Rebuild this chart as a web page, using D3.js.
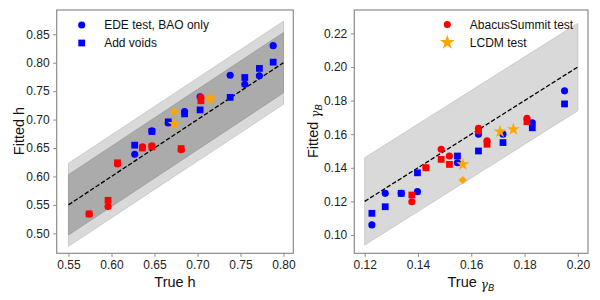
<!DOCTYPE html>
<html>
<head>
<meta charset="utf-8">
<script src="https://cdn.jsdelivr.net/npm/d3@7"></script>
<style>
  body { margin: 0; background: #fff; }
  svg { font-family: "Liberation Sans", Arial, sans-serif; }
</style>
</head>
<body>
<div id="chart"></div>
<script>
// ---- data ----
// left panel: h
var hBandX = [0.55, 0.80];
var hEdeTrue = [0.627, 0.647, 0.666, 0.685, 0.703, 0.738, 0.755, 0.772, 0.788];
var hEdeBao = [0.639, 0.680, 0.694, 0.714, 0.740, 0.778, 0.762, 0.777, 0.830];
var hEdeVoids = [0.655, 0.679, 0.696, 0.710, 0.717, 0.739, 0.774, 0.790, 0.801];
var hAbacusTrue = [0.574, 0.596, 0.607, 0.636, 0.647, 0.681, 0.704];
var hAbacusBao = [0.534, 0.547, 0.622, 0.652, 0.654, 0.647, 0.739];
var hAbacusVoids = [0.534, 0.558, 0.624, 0.650, 0.652, 0.649, 0.733];
var hLcdmDiamondTrue = [0.673, 0.715];
var hLcdmDiamond = [0.714, 0.737];
var hLcdmStarTrue = [0.673, 0.715];
var hLcdmStar = [0.692, 0.737];
var hTicks = [0.55, 0.60, 0.65, 0.70, 0.75, 0.80];
var hTicksY = [0.50, 0.55, 0.60, 0.65, 0.70, 0.75, 0.80, 0.85];

// right panel: gamma_B
var gBandX = [0.12, 0.20];
var gEdeTrue = [0.1227, 0.1277, 0.1337, 0.1398, 0.1548, 0.1627, 0.1719, 0.1829, 0.195];
var gEdeBao = [0.106, 0.1248, 0.1248, 0.1258, 0.143, 0.160, 0.160, 0.1668, 0.1858];
var gEdeVoids = [0.1129, 0.1168, 0.1248, 0.137, 0.147, 0.150, 0.155, 0.1638, 0.178];
var gAbacusTrue = [0.1377, 0.143, 0.1487, 0.1518, 0.1627, 0.1659, 0.1809];
var gAbacusBao = [0.1198, 0.140, 0.151, 0.147, 0.1635, 0.156, 0.1694];
var gAbacusVoids = [0.1238, 0.140, 0.145, 0.142, 0.162, 0.154, 0.1674];
var gLcdmDiamondTrue = [0.1568];
var gLcdmDiamond = [0.1327];
var gLcdmStarTrue = [0.1568, 0.1708, 0.1758];
var gLcdmStar = [0.142, 0.1615, 0.1629];
var gTicks = [0.12, 0.14, 0.16, 0.18, 0.20];
var gTicksY = [0.10, 0.12, 0.14, 0.16, 0.18, 0.20, 0.22];

var W = 600, H = 300;
var svg = d3.select("#chart").append("svg")
    .attr("width", W).attr("height", H);

function zip(xs, ys) {
    return xs.map(function(x, i) { return [x, ys[i]]; });
}

function panel(opt) {
    var x = d3.scaleLinear().domain(opt.xDomain).range([opt.left, opt.right]);
    var y = d3.scaleLinear().domain(opt.yDomain).range([opt.bottom, opt.top]);
    var g = svg.append("g");

    // bands around the 1:1 line
    opt.bands.forEach(function(b) {
        var area = d3.area()
            .x(function(d) { return x(d); })
            .y0(function(d) { return y(d - b.w); })
            .y1(function(d) { return y(d + b.w); });
        g.append("path")
            .datum(opt.bandX)
            .attr("d", area)
            .attr("fill", b.color)
            .attr("stroke", b.edge)
            .attr("stroke-width", 0.8);
    });

    g.append("line")
        .attr("x1", x(opt.bandX[0])).attr("y1", y(opt.bandX[0]))
        .attr("x2", x(opt.bandX[1])).attr("y2", y(opt.bandX[1]))
        .attr("stroke", "#000")
        .attr("stroke-width", 1.3)
        .attr("stroke-dasharray", "4.5,2");

    // points
    opt.series.forEach(function(s) {
        g.selectAll(null)
            .data(zip(s.x, s.y))
            .enter().append("path")
            .attr("d", d3.symbol().type(s.type).size(s.size))
            .attr("transform", function(d) {
                return "translate(" + x(d[0]) + "," + y(d[1]) + ")" + (s.rot ? " rotate(45)" : "");
            })
            .attr("fill", s.color);
    });

    // frame
    g.append("rect")
        .attr("x", opt.left).attr("y", opt.top)
        .attr("width", opt.right - opt.left).attr("height", opt.bottom - opt.top)
        .attr("fill", "none").attr("stroke", "#8c8c8c").attr("stroke-width", 1.2);

    var xa = g.append("g").attr("transform", "translate(0," + opt.bottom + ")")
        .call(d3.axisBottom(x).tickValues(opt.xTicks).tickFormat(d3.format(opt.fmt))
            .tickSize(3.5).tickPadding(3.5));
    var ya = g.append("g").attr("transform", "translate(" + opt.left + ",0)")
        .call(d3.axisLeft(y).tickValues(opt.yTicks).tickFormat(d3.format(opt.fmt))
            .tickSize(3.5).tickPadding(3.5));
    [xa, ya].forEach(function(a) {
        a.select(".domain").remove();
        a.selectAll(".tick line").attr("stroke", "#8c8c8c");
        a.selectAll(".tick text")
            .attr("fill", "#222")
            .style("font-size", "12px")
            .style("font-family", "'Liberation Sans', Arial, sans-serif");
    });

    // legend
    opt.legend.forEach(function(l, i) {
        var ly = opt.legendY + i * 18;
        g.append("path")
            .attr("d", d3.symbol().type(l.type).size(l.size))
            .attr("transform", "translate(" + opt.legendX + "," + ly + ")")
            .attr("fill", l.color);
        g.append("text")
            .attr("x", opt.legendX + 22.5).attr("y", ly)
            .attr("dy", "0.36em")
            .style("font-size", "12px")
            .attr("fill", "#111")
            .text(l.label);
    });
    return g;
}

var blue = "#0000ff", red = "#ff0000", orange = "#ffa500";
var starSize = 52, circleSize = 40, squareSize = 46, diamondSize = 34;

var left = panel({
    left: 56.7, right: 293.3, top: 10, bottom: 253.3,
    xDomain: [0.5363, 0.8114], yDomain: [0.4648, 0.8927],
    bandX: hBandX,
    bands: [
        { w: 0.073, color: "#d9d9d9", edge: "#c4c4c4" },
        { w: 0.053, color: "#ababab", edge: "#9a9a9a" }
    ],
    xTicks: hTicks, yTicks: hTicksY, fmt: ".2f",
    series: [
        { x: hEdeTrue, y: hEdeBao, type: d3.symbolCircle, size: circleSize, color: blue },
        { x: hEdeTrue, y: hEdeVoids, type: d3.symbolSquare, size: squareSize, color: blue },
        { x: hAbacusTrue, y: hAbacusBao, type: d3.symbolCircle, size: circleSize, color: red },
        { x: hAbacusTrue, y: hAbacusVoids, type: d3.symbolSquare, size: squareSize, color: red },
        { x: hLcdmDiamondTrue, y: hLcdmDiamond, type: d3.symbolSquare, size: diamondSize, color: orange, rot: true },
        { x: hLcdmStarTrue, y: hLcdmStar, type: d3.symbolStar, size: starSize, color: orange }
    ],
    legendX: 81.7, legendY: 25,
    legend: [
        { type: d3.symbolCircle, size: circleSize, color: blue, label: "EDE test, BAO only" },
        { type: d3.symbolSquare, size: squareSize, color: blue, label: "Add voids" }
    ]
});

var right = panel({
    left: 354.3, right: 588, top: 10, bottom: 253.3,
    xDomain: [0.1161, 0.2038], yDomain: [0.0891, 0.2339],
    bandX: gBandX,
    bands: [
        { w: 0.026, color: "#d9d9d9", edge: "#c4c4c4" }
    ],
    xTicks: gTicks, yTicks: gTicksY, fmt: ".2f",
    series: [
        { x: gEdeTrue, y: gEdeBao, type: d3.symbolCircle, size: circleSize, color: blue },
        { x: gEdeTrue, y: gEdeVoids, type: d3.symbolSquare, size: squareSize, color: blue },
        { x: gAbacusTrue, y: gAbacusBao, type: d3.symbolCircle, size: circleSize, color: red },
        { x: gAbacusTrue, y: gAbacusVoids, type: d3.symbolSquare, size: squareSize, color: red },
        { x: gLcdmDiamondTrue, y: gLcdmDiamond, type: d3.symbolSquare, size: diamondSize, color: orange, rot: true },
        { x: gLcdmStarTrue, y: gLcdmStar, type: d3.symbolStar, size: starSize, color: orange }
    ],
    legendX: 447.3, legendY: 24.5,
    legend: [
        { type: d3.symbolCircle, size: circleSize, color: red, label: "AbacusSummit test" },
        { type: d3.symbolStar, size: starSize * 1.3, color: orange, label: "LCDM test" }
    ]
});

// axis labels
svg.append("text").attr("x", 175).attr("y", 287)
    .attr("text-anchor", "middle").style("font-size", "14.5px").attr("fill", "#111")
    .text("True h");
svg.append("text").attr("transform", "translate(24,131) rotate(-90)")
    .attr("text-anchor", "middle").style("font-size", "14.5px").attr("fill", "#111")
    .text("Fitted h");

function gammaLabel(t, prefix) {
    t.append("tspan").text(prefix + " ");
    t.append("tspan").text("γ")
        .style("font-family", "'DejaVu Serif', serif").style("font-style", "italic")
        .style("font-size", "12px").attr("dy", "2");
    t.append("tspan").text("B")
        .style("font-family", "'DejaVu Sans', sans-serif").style("font-style", "italic")
        .style("font-size", "9.5px").attr("dy", "2");
}
var tx = svg.append("text").attr("x", 471).attr("y", 287)
    .attr("text-anchor", "middle").style("font-size", "14.5px").attr("fill", "#111");
gammaLabel(tx, "True");
var ty = svg.append("text").attr("transform", "translate(318,131) rotate(-90)")
    .attr("text-anchor", "middle").style("font-size", "14.5px").attr("fill", "#111");
gammaLabel(ty, "Fitted");
</script>
</body>
</html>
